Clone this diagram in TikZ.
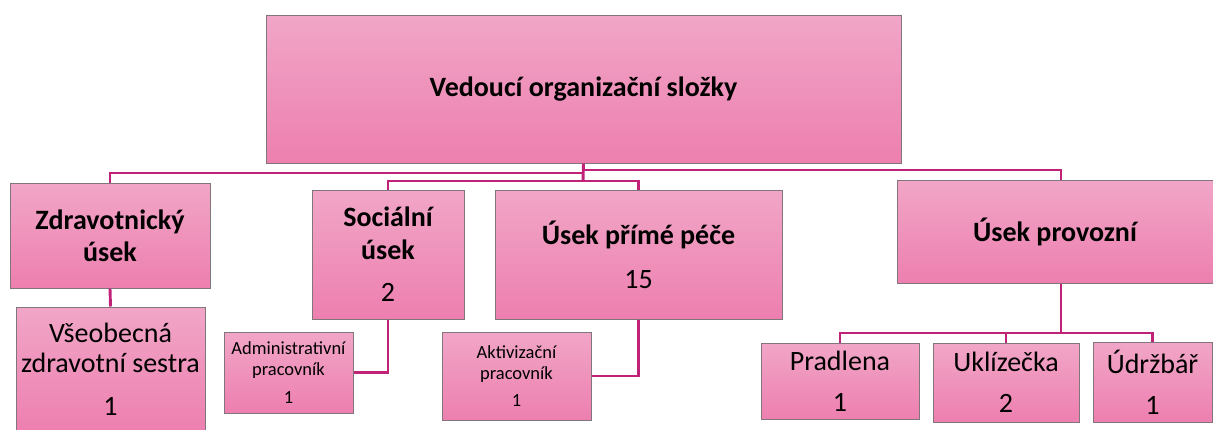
\documentclass[tikz,border=0pt]{standalone}
\usepackage{fontspec}
\setmainfont{Carlito}
\definecolor{pinktop}{RGB}{241,166,199}
\definecolor{pinkbot}{RGB}{237,127,175}
\definecolor{boxline}{RGB}{128,118,124}
\definecolor{connc}{RGB}{192,34,120}
\tikzset{
  box/.style={draw=boxline, line width=1pt, top color=pinktop, bottom color=pinkbot,
    inner sep=0pt, align=center, text=black, font=\fontsize{28}{33}\selectfont},
  conn/.style={draw=connc, line width=2.9pt},
}
\begin{document}
\begin{tikzpicture}[x=1pt,y=-1pt]
\useasboundingbox (0,0) rectangle (1213,429);
% top
\node[box, minimum width=635pt, minimum height=148pt, font=\bfseries\fontsize{28}{33}\selectfont] (top) at (583.5,89) {Vedoucí organizační složky};
% level 1
\node[box, minimum width=200pt, minimum height=105pt, font=\bfseries\fontsize{28}{32}\selectfont] (zdr) at (110,235.5) {Zdravotnický\\úsek};
\node[box, minimum width=152pt, minimum height=129pt, font=\bfseries\fontsize{28}{33}\selectfont] (soc) at (388,254.5) {Sociální\\úsek\\[9pt]\mdseries 2};
\node[box, minimum width=287pt, minimum height=129pt, font=\bfseries\fontsize{28}{33}\selectfont] (ppp) at (638.5,254.5) {Úsek přímé péče\\[11pt]\mdseries 15};
\node[box, minimum width=316pt, minimum height=103pt, font=\bfseries\fontsize{28}{33}\selectfont] (prov) at (1055,231.5) {Úsek provozní};
% level 2
\node[box, minimum width=189pt, minimum height=125pt, font=\fontsize{28}{30}\selectfont] (vse) at (110.5,369.5) {Všeobecná\\zdravotní sestra\\[13pt]1};
\node[box, minimum width=129pt, minimum height=81pt, font=\fontsize{18.5}{21}\selectfont] (adm) at (288.5,372.5) {Administrativní\\pracovník\\[7pt]1};
\node[box, minimum width=149pt, minimum height=88pt, font=\fontsize{18.5}{21}\selectfont] (akt) at (516.5,376) {Aktivizační\\pracovník\\[6pt]1};
\node[box, minimum width=158pt, minimum height=76pt] (pra) at (840,381) {Pradlena\\[8pt]1};
\node[box, minimum width=146pt, minimum height=79pt] (ukl) at (1006,382.5) {Uklízečka\\[8pt]2};
\node[box, minimum width=119pt, minimum height=80pt] (udr) at (1152.5,382) {Údržbář\\[8pt]1};
% connectors
\coordinate (hub) at (583,181);
\coordinate (pj) at (1061,333);
\draw[conn] (top.south) -- (hub);
\draw[conn] (top.south |- 0,173) -| (zdr.north);
\draw[conn] (top.south |- 0,170) -| (prov.north -| pj);
\draw[conn] (soc.north) |- (hub) -| (ppp.north);
\draw[conn] (zdr.south) -- (vse.north);
\draw[conn] (soc.south) |- (adm.east);
\draw[conn] (ppp.south) |- (akt.east);
\draw[conn] (prov.south -| pj) -- (pj);
\draw[conn] (pra.north) |- (pj) -| (udr.north);
\draw[conn] (ukl.north) -- (ukl.north |- pj);
\end{tikzpicture}
\end{document}
